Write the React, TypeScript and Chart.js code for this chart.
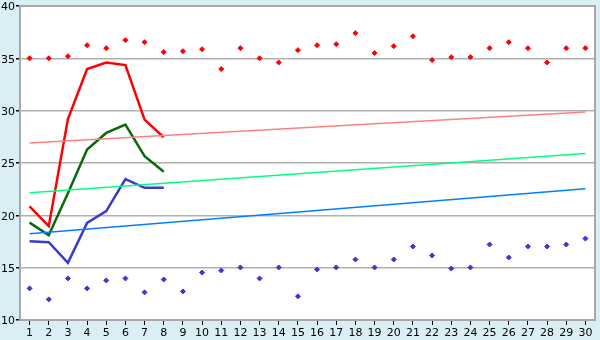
import React, { useEffect, useRef } from "react";
import { Chart, registerables } from "chart.js";

Chart.register(...registerables);

const days = Array.from({ length: 30 }, (_, i) => String(i + 1));

const maxPoints = [35.0, 35.0, 35.2, 36.25, 35.97, 36.73, 36.54, 35.59, 35.68, 35.87,
  33.97, 35.97, 35.0, 34.6, 35.78, 36.25, 36.35, 37.4, 35.5, 36.16,
  37.11, 34.83, 35.11, 35.11, 35.97, 36.54, 35.97, 34.6, 35.97, 35.97];

const minPoints = [13.02, 11.97, 13.97, 13.02, 13.78, 13.97, 12.64, 13.87, 12.73, 14.54,
  14.73, 15.02, 13.97, 15.02, 12.26, 14.83, 15.02, 15.78, 15.02, 15.78,
  17.02, 16.16, 14.92, 15.02, 17.21, 15.97, 17.02, 17.02, 17.21, 17.78];

const redLine = [20.86, 18.97, 29.2, 33.97, 34.6, 34.35, 29.14, 27.46];
const greenLine = [19.3, 18.1, 22.1, 26.29, 27.87, 28.67, 25.65, 24.16];
const blueLine = [17.52, 17.43, 15.46, 19.27, 20.41, 23.46, 22.63, 22.63];

const trendHigh = [26.9, 29.88];
const trendMid = [22.16, 25.9];
const trendLow = [18.25, 22.54];

const bgPlugin = {
  id: "bgPlugin",
  beforeDraw(chart: any) {
    const { ctx, chartArea } = chart;
    ctx.save();
    ctx.fillStyle = "#daeff5";
    ctx.fillRect(0, 0, chart.width, chart.height);
    ctx.fillStyle = "#ffffff";
    ctx.fillRect(chartArea.left, chartArea.top, chartArea.right - chartArea.left, chartArea.bottom - chartArea.top);
    ctx.restore();
  },
  afterDatasetsDraw(chart: any) {
    const { ctx, chartArea } = chart;
    ctx.save();
    ctx.strokeStyle = "#a8a8a8";
    ctx.lineWidth = 2;
    ctx.beginPath();
    ctx.moveTo(chartArea.left, chartArea.top);
    ctx.lineTo(chartArea.right, chartArea.top);
    ctx.lineTo(chartArea.right, chartArea.bottom);
    ctx.lineTo(chartArea.left, chartArea.bottom);
    ctx.closePath();
    ctx.stroke();
    ctx.restore();
  },
};

const endpoints = (v: number[]) => [
  { x: days[0], y: v[0] },
  { x: days[days.length - 1], y: v[1] },
];

export default function App() {
  const ref = useRef<HTMLCanvasElement>(null);
  useEffect(() => {
    document.body.style.margin = "0";
    const ctx = ref.current!;
    const font = { family: "DejaVu Sans", size: 11 };
    const yFont = { family: "DejaVu Sans", size: 11, lineHeight: 0.9 };
    const chart = new Chart(ctx, {
      type: "line",
      data: {
        labels: days,
        datasets: [
          { data: endpoints(trendHigh) as any, borderColor: "#ff8080", borderWidth: 1.5, pointRadius: 0, spanGaps: true },
          { data: endpoints(trendMid) as any, borderColor: "#00ff80", borderWidth: 1.5, pointRadius: 0, spanGaps: true },
          { data: endpoints(trendLow) as any, borderColor: "#0080ff", borderWidth: 1.5, pointRadius: 0, spanGaps: true },
          { data: redLine, borderColor: "#ff0000", borderWidth: 2.5, pointRadius: 0 },
          { data: greenLine, borderColor: "#0a690a", borderWidth: 2.5, pointRadius: 0 },
          { data: blueLine, borderColor: "#3a3acc", borderWidth: 2.5, pointRadius: 0 },
          { data: maxPoints, showLine: false, pointStyle: "rectRot", pointRadius: 2.5, backgroundColor: "#ff0000", borderColor: "#ff0000", borderWidth: 1 },
          { data: minPoints, showLine: false, pointStyle: "rectRot", pointRadius: 2.5, backgroundColor: "#3a3acc", borderColor: "#3a3acc", borderWidth: 1 },
        ],
      },
      options: {
        animation: false,
        responsive: false,
        layout: { padding: { top: 5, right: 5, left: 0, bottom: 0 } },
        plugins: { legend: { display: false }, tooltip: { enabled: false } },
        scales: {
          x: {
            offset: true,
            grid: { offset: false, drawOnChartArea: false, drawTicks: true, tickLength: 5, tickColor: "#000000" },
            border: { display: false },
            ticks: { font, color: "#000000", padding: 2, maxRotation: 0, autoSkip: false },
            afterFit: (s: any) => { s.height = 20; },
          },
          y: {
            min: 10,
            max: 40,
            grid: { color: "#b0b0b0", tickLength: 4, tickColor: "#000000", lineWidth: 1.5 },
            border: { display: false },
            ticks: { stepSize: 5, font: yFont, color: "#000000", padding: 1, labelOffset: 1.5 },
            afterFit: (s: any) => { s.width = 20; },
          },
        },
      },
      plugins: [bgPlugin],
    });
    return () => chart.destroy();
  }, []);
  return <canvas ref={ref} width={600} height={340} style={{ display: "block" }} />;
}
